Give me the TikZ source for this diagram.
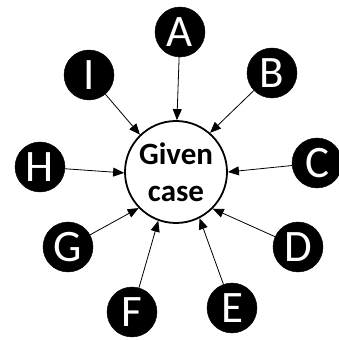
\documentclass[tikz,border=0pt]{standalone}
\usepackage{fontspec}
\setmainfont{Carlito}
\usetikzlibrary{arrows.meta}
\begin{document}
\begin{tikzpicture}[x=1pt,y=1pt,
  outer/.style={circle,fill=black,draw=black,minimum size=50pt,inner sep=0pt,text=white,font=\fontsize{45}{45}\selectfont},
  hub/.style={circle,draw=black,line width=1.8pt,fill=white,minimum size=102pt,inner sep=0pt,align=center,font=\bfseries\fontsize{31}{37}\selectfont},
  arr/.style={-{Triangle[length=11pt,width=9pt]},line width=0.8pt,black}]
\useasboundingbox (0,0) rectangle (338,340);
\node[hub] (g) at (176,168) {Given\\case};
\node[outer] (A) at (180,308) {A};
\node[outer] (B) at (272,267) {B};
\node[outer] (C) at (317,177) {C};
\node[outer] (D) at (298,93) {D};
\node[outer] (E) at (232,32) {E};
\node[outer] (F) at (132,28) {F};
\node[outer] (G) at (68,93) {G};
\node[outer] (H) at (40,173) {H};
\node[outer] (I) at (89,265) {I};
\draw[arr] (A) -- (g.89);
\draw[arr] (B) -- (g.49);
\draw[arr] (C) -- (g.0);
\draw[arr] (D) -- (g.-45);
\draw[arr] (E) -- (g.-63);
\draw[arr] (F) -- (g.-110);
\draw[arr] (G) -- (g.-136);
\draw[arr] (H) -- (g.181);
\draw[arr] (I) -- (g.134);
\end{tikzpicture}
\end{document}
